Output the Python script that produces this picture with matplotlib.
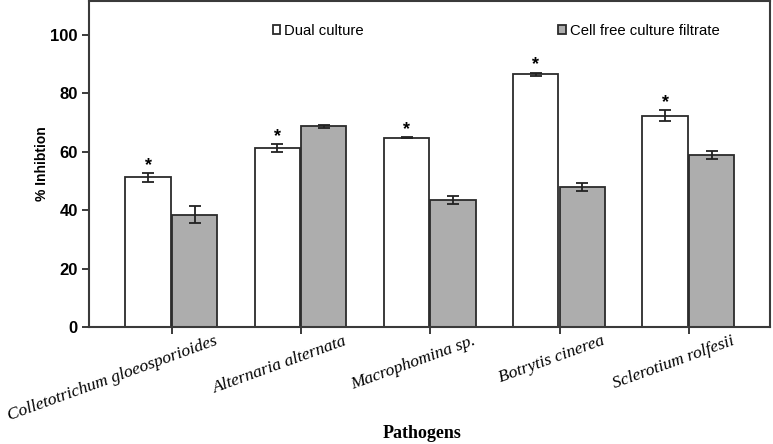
import numpy as np
import matplotlib
matplotlib.use("Agg")
import matplotlib.pyplot as plt
from matplotlib.transforms import ScaledTranslation

pathogens = ["Colletotrichum gloeosporioides", "Alternaria alternata",
             "Macrophomina sp.", "Botrytis cinerea", "Sclerotium rolfesii"]
dual = [51.2, 61.2, 64.8, 86.4, 72.3]
dual_err = [1.5, 1.4, 0.2, 0.6, 1.9]
cff = [38.4, 68.6, 43.5, 47.8, 58.8]
cff_err = [3.0, 0.6, 1.4, 1.4, 1.3]

edge = "#2b2b2b"
gray = "#adadad"

fig = plt.figure(figsize=(7.73, 4.44), dpi=100)
ax = fig.add_axes([89 / 773, 1 - 327 / 444, 681 / 773, 326 / 444])

x = np.arange(len(pathogens))
w = 0.35
err_kw = dict(ecolor="#222222", elinewidth=1.3, capsize=4.2, capthick=1.3)
b1 = ax.bar(x - 0.185, dual, w, yerr=dual_err, color="white", edgecolor=edge,
            linewidth=1.3, error_kw=err_kw, label="Dual culture")
b2 = ax.bar(x + 0.175, cff, w, yerr=cff_err, color=gray, edgecolor=edge,
            linewidth=1.3, error_kw=err_kw, label="Cell free culture filtrate")

# significance stars over dual culture bars
for xi, v, e in zip(x, dual, dual_err):
    ax.text(xi - 0.185, v + e - 0.3, "*", ha="center", va="bottom",
            fontsize=13, fontweight="bold", family="Liberation Sans")

ax.set_xlim(-0.642, 4.627)
ax.set_ylim(0, 111.5)
ax.set_yticks([0, 20, 40, 60, 80, 100])
ax.set_xticks(x)
ax.set_xticklabels([])

# rotated italic pathogen names, shifted right of the ticks
offset = ScaledTranslation(0.42, -0.06, fig.dpi_scale_trans)
for xi, name in zip(x, pathogens):
    ax.text(xi, 0, name, transform=ax.get_xaxis_transform() + offset,
            rotation=20, ha="right", va="top", rotation_mode="anchor",
            fontsize=12.6, style="italic", family="Liberation Serif")

for lab in ax.get_yticklabels():
    lab.set_fontsize(12)
    lab.set_fontweight("bold")
    lab.set_family("Liberation Sans")

ax.tick_params(axis="both", direction="out", length=5, width=1.3, color=edge)
ax.tick_params(axis="y", pad=3)
for s in ax.spines.values():
    s.set_linewidth(1.5)
    s.set_color("#3a3a3a")

ax.set_ylabel("% Inhibtion", fontsize=10, fontweight="bold",
              family="Liberation Sans", labelpad=1)
fig.text(422 / 773, 1 - 433 / 444, "Pathogens", ha="center", va="center",
         fontsize=13, fontweight="bold", family="Liberation Serif")

ax.legend(handles=[b1, b2], ncol=2, loc="upper left",
          bbox_to_anchor=(273 / 773, 1 - 24 / 444),
          bbox_transform=fig.transFigure, frameon=False,
          prop={"family": "Liberation Sans", "size": 10.7},
          handlelength=0.5, handleheight=0.5, handletextpad=0.25,
          columnspacing=13.1, borderaxespad=0, borderpad=0)

fig.savefig("out.png", dpi=100)
